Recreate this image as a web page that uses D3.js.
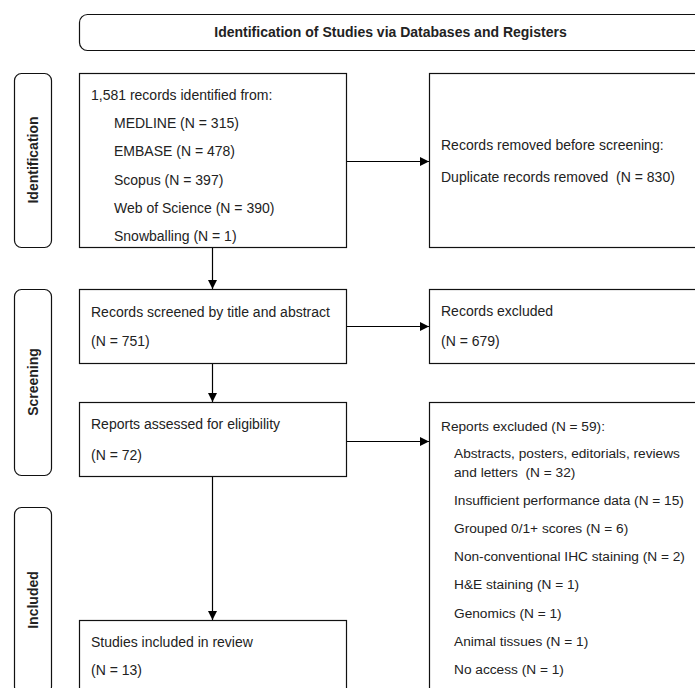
<!DOCTYPE html>
<html>
<head>
<meta charset="utf-8">
<script src="https://cdn.jsdelivr.net/npm/d3@7"></script>
<style>
  body { margin: 0; background: #fff; }
  svg text { font-family: "Liberation Sans", Arial, sans-serif; fill: #222; white-space: pre; }
</style>
</head>
<body>
<div class="graph"></div>
<script>
// Flow counts
const title = 'Identification of Studies via Databases and Registers';
const phases = ['Identification', 'Screening', 'Included'];
const sources = ['MEDLINE', 'EMBASE', 'Scopus', 'Web of Science', 'Snowballing'];
const sourceCounts = [315, 478, 397, 390, 1];
const totalIdentified = 1581;
const duplicatesRemoved = 830;
const screened = 751;
const screenExcluded = 679;
const assessed = 72;
const reportsExcluded = 59;
const exclusionReasons = ['Abstracts, posters, editorials, reviews|and letters ', 'Insufficient performance data', 'Grouped 0/1+ scores',
    'Non-conventional IHC staining', 'H&E staining', 'Genomics', 'Animal tissues', 'No access'];
const exclusionCounts = [32, 15, 6, 2, 1, 1, 1, 1];
const included = 13;

const width = 695;
const height = 688;
const fmt = d3.format(',');

const svg = d3.select('.graph')
    .append('svg')
    .attr('width', width)
    .attr('height', height);

// Column positions
const x = d3.scaleOrdinal()
    .domain(['phase', 'main', 'side'])
    .range([14, 79, 429]);
const mainW = 267;
const phaseW = 37;

// Draw a box helper
const box = (x0, y0, w, h, r) => svg.append('rect')
    .attr('x', x0 + 0.5).attr('y', y0 + 0.5)
    .attr('width', w).attr('height', h)
    .attr('rx', r || 0)
    .attr('fill', 'none')
    .attr('stroke', '#111')
    .attr('stroke-width', 1.2);

const txt = (x0, y0, s, size) => svg.append('text')
    .attr('x', x0).attr('y', y0)
    .attr('dy', '0.35em')
    .style('font-size', (size || 14) + 'px')
    .text(s);

// Title box
box(79, 14, 640, 36, 8);
svg.append('text')
    .attr('x', 390.5).attr('y', 32)
    .attr('dy', '0.35em')
    .attr('text-anchor', 'middle')
    .style('font-size', '14px')
    .style('font-weight', 'bold')
    .text(title);

// Phase labels
const phaseBoxes = [[73, 174], [289, 186], [507, 186]];
phases.forEach((p, i) => {
    const [y0, h] = phaseBoxes[i];
    box(x('phase'), y0, phaseW, h, 7);
    svg.append('text')
        .attr('transform', `translate(${x('phase') + phaseW / 2 + 1},${y0 + h / 2}) rotate(-90)`)
        .attr('dy', '0.35em')
        .attr('text-anchor', 'middle')
        .style('font-size', '14px')
        .style('font-weight', 'bold')
        .text(p);
});

// Main column boxes
const mainBoxes = [[73, 174], [289, 74], [402, 74], [620, 120]];
mainBoxes.forEach(([y0, h]) => box(x('main'), y0, mainW, h));
const sideBoxes = [[73, 174], [289, 74], [402, 320]];
sideBoxes.forEach(([y0, h]) => box(x('side'), y0, 300, h));

// Line spacing
const line = d3.scaleLinear().domain([0, 1]).range([0, 28.2]);

// Identification box
txt(91, 95, `${fmt(totalIdentified)} records identified from:`);
sources.forEach((s, i) => txt(114, 95 + line(i + 1), `${s} (N = ${sourceCounts[i]})`));
txt(441, 145, 'Records removed before screening:');
txt(441, 177, `Duplicate records removed  (N = ${duplicatesRemoved})`);

// Screening
txt(91, 312, 'Records screened by title and abstract');
txt(91, 341, `(N = ${screened})`);
txt(441, 311, 'Records excluded');
txt(441, 341, `(N = ${screenExcluded})`);

txt(91, 424, 'Reports assessed for eligibility');
txt(91, 455, `(N = ${assessed})`);
txt(441, 426, `Reports excluded (N = ${reportsExcluded}):`, 13.7);

let yy = 453;
exclusionReasons.forEach((r, i) => {
    const parts = r.split('|');
    const last = parts.length - 1;
    parts.forEach((p, j) => {
        const s = j === last ? `${p} (N = ${exclusionCounts[i]})` : p;
        txt(454, yy, s, 13.7);
        yy += j === last ? 28.2 : 18.8;
    });
});

// Included
txt(91, 642, 'Studies included in review');
txt(91, 670, `(N = ${included})`);

// Arrows
const defs = svg.append('defs');
defs.append('marker')
    .attr('id', 'arrow')
    .attr('viewBox', '0 0 10 10')
    .attr('refX', 10).attr('refY', 5)
    .attr('markerWidth', 9).attr('markerHeight', 9)
    .attr('markerUnits', 'userSpaceOnUse')
    .attr('orient', 'auto')
    .append('path')
    .attr('d', 'M0,0L10,5L0,10Z')
    .attr('fill', '#000');

const arrows = [
    [212.5, 248, 212.5, 289],
    [212.5, 364, 212.5, 402],
    [212.5, 477, 212.5, 620],
    [347, 161.5, 429, 161.5],
    [347, 326.5, 429, 326.5],
    [347, 441.5, 429, 441.5]
];
svg.selectAll('.arrow')
    .data(arrows)
    .enter()
    .append('line')
    .attr('class', 'arrow')
    .attr('x1', d => d[0]).attr('y1', d => d[1])
    .attr('x2', d => d[2]).attr('y2', d => d[3])
    .attr('stroke', '#000')
    .attr('stroke-width', 1.2)
    .attr('marker-end', 'url(#arrow)');
</script>
</body>
</html>
